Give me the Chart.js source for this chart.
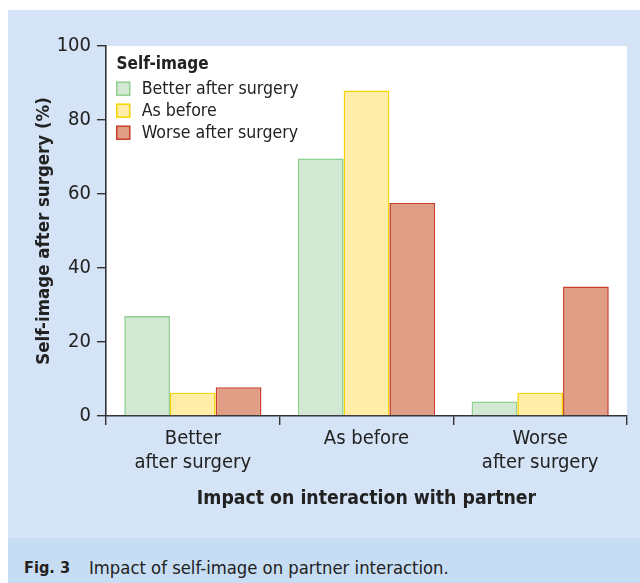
<!DOCTYPE html>
<html><head><meta charset="utf-8">
<script src="https://cdn.jsdelivr.net/npm/chart.js@4"></script>
<style>
html,body{margin:0;padding:0;background:#fff;width:640px;height:583px;overflow:hidden;font-family:"DejaVu Sans Condensed","DejaVu Sans",sans-serif;}
#panel{position:absolute;left:8px;top:10px;width:632px;height:528px;background:#d4e3f5;}
#cap{position:absolute;left:8px;top:538px;width:632px;height:45px;background:#c7ddf3;color:#222;font-size:18.3px;}
#cap span{position:absolute;top:30px;transform:translateY(-50%);white-space:nowrap;line-height:1;}
canvas{display:block;}
</style></head><body>
<div id="panel"><canvas id="c" width="632" height="528"></canvas></div>
<div id="cap"><span style="left:16px;font-weight:bold;font-size:16.2px;">Fig. 3</span><span style="left:81px;">Impact of self-image on partner interaction.</span></div>
<script>
const categories = [["Better","after surgery"],["As before"],["Worse","after surgery"]];
const seriesNames = ["Better after surgery","As before","Worse after surgery"];
const betterValues = [27, 69.6, 3.9];
const asBeforeValues = [6.3, 88, 6.3];
const worseValues = [7.8, 57.6, 35];
const yTicks = [0,20,40,60,80,100];
const legendTitle = "Self-image";
const xTitle = "Impact on interaction with partner";
const yTitle = "Self-image after surgery (%)";

const fills = ["#d2e8d3","#ffeda8","#e19e86"];
const borders = ["#8fcf90","#f7d400","#c83e2a"];
const FONT = '"DejaVu Sans Condensed","DejaVu Sans",sans-serif';
const INK = '#222';

const areaBg = {
  id:'areaBg',
  beforeDraw(ch){const a=ch.chartArea,c=ch.ctx;c.save();c.fillStyle='#fff';c.fillRect(a.left,a.top,a.right-a.left,a.bottom-a.top);c.restore();}
};
const innerLegend = {
  id:'innerLegend',
  afterDraw(ch){
    const c=ch.ctx,a=ch.chartArea;c.save();
    const x=a.left+10;
    c.fillStyle=INK;c.textBaseline='middle';c.textAlign='left';
    c.font='bold 17px '+FONT;c.fillText(legendTitle,x+0.5,a.top+19);
    c.font='17.6px '+FONT;
    ch.data.datasets.forEach((d,i)=>{
      const y=a.top+42.7+i*22;
      c.fillStyle=d.backgroundColor;c.fillRect(x+0.75,y-6.5,13,13);
      c.strokeStyle=d.borderColor;c.lineWidth=1.5;c.strokeRect(x+0.75,y-6.5,13,13);
      c.fillStyle=INK;c.fillText(d.label,x+25.7,y+1);
    });
    c.restore();
  }
};

new Chart(document.getElementById('c'),{
  type:'bar',
  data:{labels:categories,datasets:[
    {label:seriesNames[0],data:betterValues,backgroundColor:fills[0],borderColor:borders[0],borderWidth:1.6},
    {label:seriesNames[1],data:asBeforeValues,backgroundColor:fills[1],borderColor:borders[1],borderWidth:1.6},
    {label:seriesNames[2],data:worseValues,backgroundColor:fills[2],borderColor:borders[2],borderWidth:1.6}
  ]},
  options:{
    responsive:false,animation:false,
    layout:{padding:{left:21,right:13,top:36,bottom:23.4}},
    datasets:{bar:{categoryPercentage:0.79,barPercentage:1}},
    plugins:{legend:{display:false},tooltip:{enabled:false}},
    scales:{
      x:{
        grid:{display:true,drawOnChartArea:false,drawTicks:true,tickLength:9,color:'#333',lineWidth:1.4,offset:true},
        border:{display:true,color:'#333',width:1.6},
        ticks:{color:INK,font:{family:FONT,size:20,lineHeight:1.235},padding:1,maxRotation:0},
        title:{display:true,text:xTitle,color:INK,font:{family:FONT,size:19.3,weight:'bold'},padding:{top:4,bottom:4}},
        afterFit(s){s.height=98.6;}
      },
      y:{
        min:0,max:100,
        afterBuildTicks(s){s.ticks=yTicks.map(v=>({value:v}));},
        grid:{display:true,drawOnChartArea:false,drawTicks:true,tickLength:9,color:'#333',lineWidth:1.4},
        border:{display:true,color:'#333',width:1.6},
        ticks:{color:INK,font:{family:FONT,size:20},padding:6},
        title:{display:true,text:yTitle,color:INK,font:{family:FONT,size:18.5,weight:'bold'},padding:{top:4,bottom:6}},
        afterFit(s){s.width=77;}
      }
    }
  },
  plugins:[areaBg,innerLegend]
});
</script>
</body></html>
